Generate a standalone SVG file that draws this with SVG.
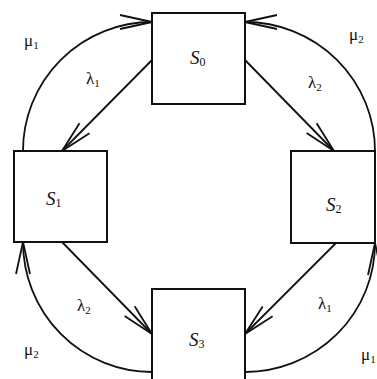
<svg xmlns="http://www.w3.org/2000/svg" width="377" height="379" viewBox="0 0 377 379">
<defs>
<marker id="ah" markerUnits="userSpaceOnUse" markerWidth="40" markerHeight="20" viewBox="-36 -10 40 20" refX="0" refY="0" orient="auto">
<path d="M-32,-7 L0,0 L-32,7" fill="none" stroke="#111" stroke-width="1.8"/>
</marker>
<style>
.box{fill:#fff;stroke:#111;stroke-width:2}
.edge{fill:none;stroke:#111;stroke-width:1.8;marker-end:url(#ah)}
.st{font-family:"Liberation Serif","Times New Roman",serif;font-size:19px;font-style:italic;fill:#111}
.sub{font-style:normal;font-size:12px}
.lb{font-family:"Liberation Serif","Times New Roman",serif;font-size:17px;fill:#111}
.ls{font-size:11px}
</style>
</defs>
<rect width="377" height="379" fill="#fff"/>
<g id="connectors">
<line class="edge" x1="152" y1="60" x2="62" y2="151"/>
<line class="edge" x1="245" y1="60" x2="334" y2="151"/>
<line class="edge" x1="62" y1="242" x2="152" y2="334"/>
<line class="edge" x1="336" y1="243" x2="245" y2="334"/>
<path class="edge" d="M23,151 A129,129 0 0 1 152,22"/>
<path class="edge" d="M375,151 A130,129 0 0 0 245,22"/>
<path class="edge" d="M152,372 A129,130 0 0 1 23,242"/>
<path class="edge" d="M245,372 A130,129 0 0 0 375,243"/>
</g>
<g id="labels">
<text class="lb" x="24" y="46">μ<tspan class="ls" dy="3">1</tspan></text>
<text class="lb" x="86" y="84">λ<tspan class="ls" dy="3">1</tspan></text>
<text class="lb" x="308" y="88">λ<tspan class="ls" dy="3">2</tspan></text>
<text class="lb" x="349" y="40">μ<tspan class="ls" dy="3">2</tspan></text>
<text class="lb" x="77" y="311">λ<tspan class="ls" dy="3">2</tspan></text>
<text class="lb" x="24" y="355">μ<tspan class="ls" dy="3">2</tspan></text>
<text class="lb" x="318" y="309">λ<tspan class="ls" dy="3">1</tspan></text>
<text class="lb" x="361" y="360">μ<tspan class="ls" dy="3">1</tspan></text>
</g>
<g id="S0">
<rect class="box" x="152" y="13" width="93" height="91"/>
<text class="st" x="190" y="64">S<tspan class="sub" dy="2">0</tspan></text>
</g>
<g id="S1">
<rect class="box" x="14" y="151" width="93" height="91"/>
<text class="st" x="46" y="205">S<tspan class="sub" dy="2">1</tspan></text>
</g>
<g id="S2">
<rect class="box" x="291" y="151" width="84" height="92"/>
<text class="st" x="326" y="211">S<tspan class="sub" dy="2">2</tspan></text>
</g>
<g id="S3">
<rect class="box" x="152" y="289" width="93" height="100"/>
<text class="st" x="189" y="346">S<tspan class="sub" dy="2">3</tspan></text>
</g>
</svg>
